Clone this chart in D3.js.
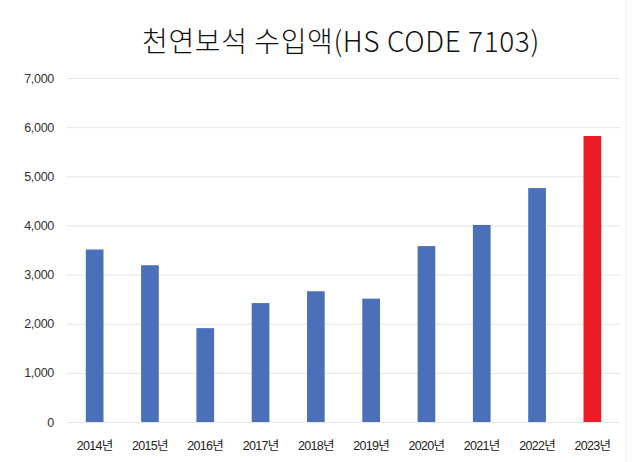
<!DOCTYPE html>
<html>
<head>
<meta charset="utf-8">
<script src="https://cdn.jsdelivr.net/npm/d3@7"></script>
<style>
  body{margin:0;background:#fff;}
  text{font-family:"Liberation Sans","Noto Sans CJK KR",sans-serif;}
  .title{font-family:"Noto Sans CJK KR","Noto Sans",sans-serif;}
</style>
</head>
<body>
<svg id="chart" width="640" height="462"></svg>
<script>
'use strict';

var years=['2014년','2015년','2016년','2017년','2018년','2019년','2020년','2021년','2022년','2023년']
  , values=[3510,3190,1910,2420,2660,2510,3580,4010,4760,5820]
  , barColors=['#4a70b9','#4a70b9','#4a70b9','#4a70b9','#4a70b9','#4a70b9','#4a70b9','#4a70b9','#4a70b9','#ec1c24']
  , yTicks=[0,1000,2000,3000,4000,5000,6000,7000]

var svg=d3.select('#chart')
  , plotLeft=67
  , plotRight=620
  , plotTop=78
  , plotBottom=422

var x=d3.scaleBand()
    .domain(years)
    .range([plotLeft,plotRight])
    .paddingInner(0.68)
    .paddingOuter(0.34)

var y=d3.scaleLinear()
    .domain([0,7000])
    .range([plotBottom,plotTop])

// frame line on the right
svg.append('line')
    .attr('x1',626).attr('x2',626)
    .attr('y1',0).attr('y2',462)
    .attr('stroke','#ececec')

// title
svg.append('text')
    .attr('class','title')
    .attr('x',341)
    .attr('y',52)
    .attr('text-anchor','middle')
    .attr('font-size',28)
    .attr('font-weight',300)
    .attr('letter-spacing',0.6)
    .attr('fill','#111')
    .text('천연보석 수입액(HS CODE 7103)')

// grid
svg.append('g')
    .attr('transform','translate('+plotLeft+',0)')
    .call(d3.axisLeft(y).tickValues(yTicks).tickSize(-(plotRight-plotLeft)).tickFormat(d3.format(',')))
    .call(function(g){
        g.select('.domain').remove();
        g.selectAll('.tick line').attr('stroke','#e6e6e6');
        g.selectAll('.tick text')
            .attr('x',-13)
            .attr('font-size',12.5)
            .attr('letter-spacing',-0.3)
            .attr('fill','#333');
    });

// bars
svg.append('g')
    .selectAll('rect')
    .data(values)
    .enter()
    .append('rect')
    .attr('x',function(d,i){return x(years[i]);})
    .attr('y',function(d){return y(d);})
    .attr('width',x.bandwidth())
    .attr('height',function(d){return plotBottom-y(d);})
    .attr('fill',function(d,i){return barColors[i];})

// category labels
svg.append('g')
    .attr('transform','translate(0,'+plotBottom+')')
    .call(d3.axisBottom(x).tickSize(0).tickPadding(19))
    .call(function(g){
        g.select('.domain').remove();
        g.selectAll('.tick text')
            .attr('font-size',12.5)
            .attr('letter-spacing',-0.7)
            .attr('fill','#222');
    });
</script>
</body>
</html>
